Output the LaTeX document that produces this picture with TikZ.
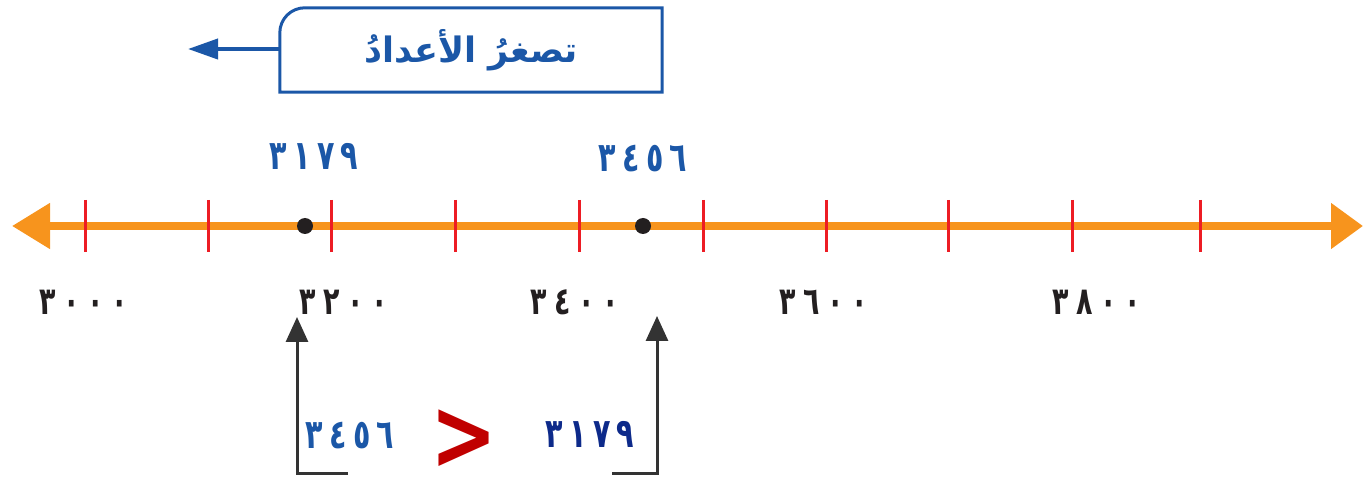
\documentclass[tikz,border=0pt]{standalone}
\usepackage{fontspec}
\TeXXeTstate=1
\newfontfamily\arabicfont[Script=Arabic]{DejaVu Sans}
\newfontfamily\digfont[LetterSpace=22]{DejaVu Sans}
\newfontfamily\digfontwide[LetterSpace=28]{DejaVu Sans}
\usetikzlibrary{arrows.meta}
\definecolor{lineorange}{HTML}{F7941D}
\definecolor{tickred}{HTML}{ED1C24}
\definecolor{labblue}{HTML}{1B57A7}
\definecolor{labnavy}{HTML}{0D2A8A}
\definecolor{darkgray}{HTML}{333333}
\definecolor{dotblack}{HTML}{231F20}
\definecolor{gtred}{HTML}{C00000}
\newcommand{\tallnum}[1]{\scalebox{0.84}[1.2]{#1}}
\tikzset{
  numline/.style={line width=8pt, lineorange, {Triangle[length=38pt,width=44pt]}-{Triangle[length=32pt,width=44pt]}},
  tickmark/.style={line width=3pt, tickred},
  dotmark/.style={circle, fill=dotblack, minimum size=16pt, inner sep=0pt},
  toplab/.style={font=\fontsize{34}{34}\selectfont\digfont\bfseries, text=labblue, inner sep=0pt},
  botlab/.style={font=\fontsize{32}{32}\selectfont\digfontwide\bfseries, text=dotblack, inner sep=0pt},
  boxline/.style={line width=3pt, labblue},
  bluearrow/.style={line width=4pt, labblue, -{Triangle[length=30pt,width=20pt]}},
  grayarrow/.style={line width=3pt, darkgray, -{Triangle[length=25pt,width=22pt]}},
}
\begin{document}
\begin{tikzpicture}[x=1pt,y=-1pt]
\useasboundingbox (0,0) rectangle (1363,478);
% number line
\coordinate (Lend) at (12,226);
\coordinate (Rend) at (1363,226);
\draw[numline] (Lend) -- (Rend);
\foreach \x in {85,208,331,455,579,703,826,948,1072,1200}
  \draw[tickmark] (\x,200) -- (\x,252);
\node[dotmark] (d1) at (305,226) {};
\node[dotmark] (d2) at (643,226) {};
% top labels
\node[toplab] (t1) at (314,156) {\tallnum{٣١٧٩}};
\node[toplab] (t2) at (643,159) {\tallnum{٣٤٥٦}};
% bottom labels
\node[botlab] (b1) at (84,302) {\tallnum{٣٠٠٠}};
\node[botlab] (b2) at (344,302) {\tallnum{٣٢٠٠}};
\node[botlab] (b3) at (575,302) {\tallnum{٣٤٠٠}};
\node[botlab] (b4) at (824,302) {\tallnum{٣٦٠٠}};
\node[botlab] (b5) at (1097,302) {\tallnum{٣٨٠٠}};
% top box
\node[minimum width=382pt, minimum height=84pt, inner sep=0pt,
      font=\fontsize{35}{35}\selectfont\arabicfont\bfseries, text=labblue] (box) at (471,50)
      {\beginR تصغرُ الأعدادُ\endR};
\draw[boxline] (box.south west) -- ([yshift=-25pt]box.north west)
   arc[start angle=180, end angle=90, radius=25pt] -- (box.north east) -- (box.south east) -- cycle;
\coordinate (leftend) at (188,49);
\draw[bluearrow] (box.west |- leftend) -- (leftend);
% bottom comparison
\coordinate (c1) at (348,473);
\coordinate (c1t) at (297,317);
\draw[grayarrow] (c1) -| (c1t);
\coordinate (c2) at (612,473);
\coordinate (c2t) at (657,316);
\draw[grayarrow] (c2) -| (c2t);
\node[toplab] (n1) at (350,436) {\tallnum{٣٤٥٦}};
\node[font=\fontsize{80}{80}\selectfont\digfont\bfseries, text=gtred, inner sep=0pt] (gt) at (464,440) {\scalebox{1}[1.25]{>}};
\node[toplab, text=labnavy] (n2) at (590,434) {\tallnum{٣١٧٩}};
\end{tikzpicture}
\end{document}
